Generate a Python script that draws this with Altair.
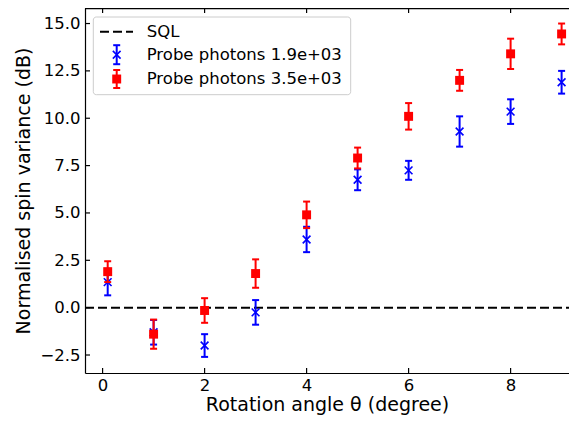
import altair as alt
import pandas as pd

# ---- data ----
angles = [0.1, 1, 2, 3, 4, 5, 6, 7, 8, 9]
blue_vals = [1.35, -1.3, -2.0, -0.25, 3.6, 6.75, 7.25, 9.3, 10.35, 11.9]
blue_err = [0.7, 0.65, 0.6, 0.65, 0.67, 0.55, 0.5, 0.8, 0.65, 0.6]
red_vals = [1.9, -1.4, -0.15, 1.8, 4.9, 7.9, 10.1, 12.0, 13.4, 14.45]
red_err = [0.55, 0.77, 0.65, 0.75, 0.7, 0.55, 0.7, 0.55, 0.8, 0.55]
sql_level = [0.0]
x_ticks = [0, 2, 4, 6, 8]
y_ticks = [-2.5, 0.0, 2.5, 5.0, 7.5, 10.0, 12.5, 15.0]
legend_labels = ["SQL", "Probe photons 1.9e+03", "Probe photons 3.5e+03"]

W, H = 484, 365
FONT = "DejaVu Sans"
BLUE, RED = "#0000ff", "#ff0000"


def series_df(vals, errs):
    df = pd.DataFrame({"x": angles, "y": vals, "e": errs})
    df["lo"] = df["y"] - df["e"]
    df["hi"] = df["y"] + df["e"]
    return df


blue = series_df(blue_vals, blue_err)
red = series_df(red_vals, red_err)

xs = alt.Scale(domain=[-0.345, 9.145], nice=False, zero=False)
ys = alt.Scale(domain=[-3.45, 15.82], nice=False, zero=False)

x_axis = alt.Axis(values=x_ticks, format="d", title="Rotation angle θ (degree)",
                  labelPadding=4, titlePadding=2)
y_axis = alt.Axis(values=y_ticks, title="Normalised spin variance (dB)",
                  labelExpr="replace(format(datum.value, '.1f'), '-', '−')",
                  labelPadding=5, titlePadding=6)


def X(f):
    return alt.X(f, scale=xs, axis=x_axis)


def Y(f):
    return alt.Y(f, scale=ys, axis=y_axis)


one = pd.DataFrame({"a": [0]})

# base layer carrying both axes
base = alt.Chart(pd.DataFrame({"x": [x_ticks[0]], "y": [y_ticks[0]]})).mark_point(opacity=0).encode(
    x=X("x:Q"), y=Y("y:Q"))

# SQL dashed line
sql = alt.Chart(pd.DataFrame({"y": sql_level})).mark_rule(
    color="black", strokeDash=[9, 4], strokeWidth=2
).encode(y=Y("y:Q"), x=alt.value(0), x2=alt.value(W))


def errorbars(df, color, marker):
    bars = alt.Chart(df).mark_rule(color=color, strokeWidth=2).encode(
        x=X("x:Q"), y=Y("lo:Q"), y2="hi:Q")
    cap_lo = alt.Chart(df).mark_rule(color=color, strokeWidth=2, xOffset=-3.5, x2Offset=3.5).encode(
        x=X("x:Q"), x2="x:Q", y=Y("lo:Q"))
    cap_hi = alt.Chart(df).mark_rule(color=color, strokeWidth=2, xOffset=-3.5, x2Offset=3.5).encode(
        x=X("x:Q"), x2="x:Q", y=Y("hi:Q"))
    pts = alt.Chart(df).mark_point(**marker).encode(x=X("x:Q"), y=Y("y:Q"))
    return [bars, cap_lo, cap_hi, pts]


XPATH = "M-1,-1L1,1M1,-1L-1,1"
blue_marker = dict(shape=XPATH, filled=False, color=BLUE, size=60, strokeWidth=1.6, opacity=1)
red_marker = dict(shape="square", filled=True, color=RED, size=80, opacity=1)

# inward ticks
yt = alt.Chart(pd.DataFrame({"v": y_ticks})).mark_rule(color="black", strokeWidth=1.2).encode(
    y=Y("v:Q"), x=alt.value(0), x2=alt.value(5))
xt_b = alt.Chart(pd.DataFrame({"v": x_ticks})).mark_rule(color="black", strokeWidth=1.2).encode(
    x=X("v:Q"), y=alt.value(H), y2=alt.value(H - 5))
xt_t = alt.Chart(pd.DataFrame({"v": x_ticks})).mark_rule(color="black", strokeWidth=1.2).encode(
    x=X("v:Q"), y=alt.value(0), y2=alt.value(5))
top_spine = alt.Chart(one).mark_rule(color="black", strokeWidth=1.2).encode(
    x=alt.value(0), x2=alt.value(W), y=alt.value(0.6))

# legend
lbox = alt.Chart(one).mark_rect(fill="white", fillOpacity=0.8, stroke="#cccccc",
                                strokeWidth=1, cornerRadius=3).encode(
    x=alt.value(8.3), x2=alt.value(265.7), y=alt.value(9), y2=alt.value(86.7))
l_sql = alt.Chart(one).mark_rule(color="black", strokeDash=[9, 4], strokeWidth=2).encode(
    x=alt.value(15), x2=alt.value(48), y=alt.value(23.7))


def legend_err(color, yc, half, marker):
    bar = alt.Chart(one).mark_rule(color=color, strokeWidth=2).encode(
        x=alt.value(31.7), y=alt.value(yc - half), y2=alt.value(yc + half))
    c1 = alt.Chart(one).mark_rule(color=color, strokeWidth=2).encode(
        x=alt.value(28.2), x2=alt.value(35.2), y=alt.value(yc - half))
    c2 = alt.Chart(one).mark_rule(color=color, strokeWidth=2).encode(
        x=alt.value(28.2), x2=alt.value(35.2), y=alt.value(yc + half))
    m = alt.Chart(one).mark_point(**marker).encode(x=alt.value(31.7), y=alt.value(yc))
    return [bar, c1, c2, m]


def ltext(label, yc):
    return alt.Chart(one).mark_text(align="left", baseline="middle", font=FONT,
                                    fontSize=16.5, color="black", text=label).encode(
        x=alt.value(61.7), y=alt.value(yc))


layers = [base, sql] + errorbars(blue, BLUE, blue_marker) + errorbars(red, RED, red_marker)
layers += [yt, xt_b, xt_t, top_spine, lbox, l_sql]
layers += legend_err(BLUE, 46.7, 9.5, blue_marker) + legend_err(RED, 71, 9, red_marker)
layers += [ltext(legend_labels[0], 23.7), ltext(legend_labels[1], 46.7), ltext(legend_labels[2], 71)]

chart = alt.layer(*layers).properties(
    width=W, height=H,
    padding={"left": 77, "top": 0, "right": 0, "bottom": 46},
    autosize=alt.AutoSizeParams(type="none"),
).configure_view(stroke=None).configure_axis(
    ticks=False, grid=False, domainColor="black", domainWidth=1.2,
    labelFont=FONT, labelFontSize=16.5, labelColor="black",
    titleFont=FONT, titleFontSize=19, titleFontWeight="normal", titleColor="black",
)

chart.save("out.html", embed_options={"renderer": "svg", "actions": False})
